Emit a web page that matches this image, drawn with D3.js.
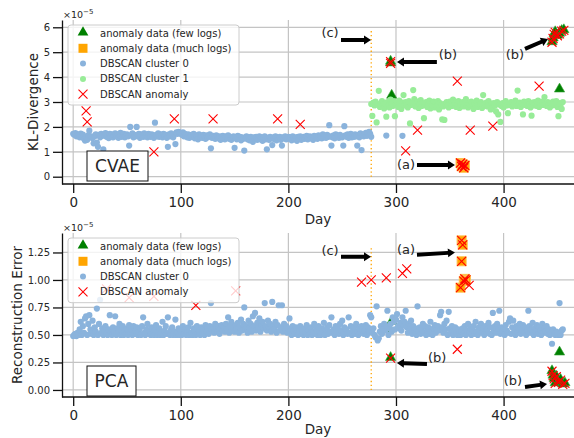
<!DOCTYPE html>
<meta charset="utf-8">
<script src="https://cdn.jsdelivr.net/npm/d3@7"></script>
<style>
body{margin:0;background:#fff}
text{font-family:"DejaVu Sans",sans-serif;fill:#262626}
</style>
<body>
<script>
// ---------------- data (values in units of 1e-5) ----------------
var dayTicks=[0,100,200,300,400];
var cvaeTicks=[0,1,2,3,4,5,6];
var pcaTicks=[0,0.25,0.5,0.75,1.0,1.25];

// CVAE, DBSCAN cluster 0, one value per day starting at day 0
var cvaeC0Start=0;
var cvaeC0=[1.72,1.68,1.75,1.62,1.70,1.66,1.58,1.73,1.64,1.69,
1.52,1.45,1.60,1.48,1.66,1.85,1.58,1.62,1.55,1.34,
1.62,1.70,1.37,1.20,1.68,1.58,1.72,1.64,1.10,1.66,
1.75,1.60,1.68,1.55,1.72,1.64,1.70,1.58,1.66,1.74,
1.62,1.70,1.56,1.68,1.76,1.60,1.66,1.72,1.58,1.64,
1.70,1.62,1.25,2.00,1.66,1.74,1.58,1.68,1.62,2.00,
1.64,1.72,1.56,1.70,1.66,1.60,1.74,1.62,1.68,1.58,
1.72,1.66,1.60,1.70,1.64,1.56,2.17,1.68,1.62,1.74,
1.60,1.70,1.66,1.58,1.72,1.64,1.68,1.56,1.20,1.70,
1.62,1.74,1.66,1.58,1.70,1.31,1.78,1.72,1.80,1.76,
1.74,1.68,1.78,1.62,1.72,1.66,1.58,1.70,1.56,1.64,
1.68,1.60,1.72,1.54,1.66,1.62,1.50,1.70,1.58,1.64,
1.56,1.68,1.60,1.52,1.66,1.58,1.62,1.70,1.14,1.56,
1.64,1.58,1.52,1.66,1.60,1.54,1.62,1.48,1.58,1.64,
1.56,1.50,1.62,1.58,1.66,1.52,1.60,1.48,1.56,1.62,
1.16,1.58,1.50,1.64,1.54,1.60,1.46,1.58,1.52,1.05,
1.56,1.62,1.50,1.58,1.46,1.60,1.54,1.40,1.58,1.52,
1.60,1.48,1.56,1.62,1.50,1.58,1.44,1.56,1.62,1.50,
1.10,1.56,1.48,1.60,1.54,1.27,1.58,1.50,1.62,1.46,
1.56,1.52,1.60,1.48,1.25,1.58,1.54,1.62,1.50,1.56,
1.60,1.52,1.58,1.46,1.62,1.54,1.50,1.58,1.44,1.60,
1.54,1.62,1.48,1.56,1.60,1.52,1.58,1.64,1.50,1.56,
1.62,1.54,1.58,1.48,1.64,1.56,1.60,1.52,1.66,1.58,
1.62,1.54,1.70,1.58,1.64,1.56,1.68,1.60,2.07,1.62,
1.25,1.58,1.66,1.54,1.70,1.60,1.64,1.56,1.68,1.62,
1.58,1.25,2.03,1.66,1.60,1.70,1.56,1.64,1.72,1.58,
1.66,1.60,1.70,1.62,1.25,1.68,1.58,1.74,1.07,1.66,
1.62,1.70,1.76,1.64,1.75,1.80,1.72,1.60];
var cvaeC0ExtraDays=[291,306];
var cvaeC0ExtraVals=[1.65,1.64];

// CVAE, DBSCAN cluster 1, one value per day starting at day 277
var cvaeC1Start=277;
var cvaeC1=[2.92,2.44,2.98,2.86,3.02,2.18,2.90,3.45,2.80,2.96,
3.04,2.88,2.74,2.94,2.41,3.00,2.86,2.78,3.10,2.92,
2.84,3.02,2.43,2.90,2.96,2.80,3.06,2.88,2.72,2.98,
3.28,2.86,3.00,2.92,2.78,3.04,2.14,2.88,2.96,3.48,
3.12,2.82,2.94,3.02,2.76,2.90,3.08,2.84,2.96,2.35,
2.88,3.00,2.80,2.94,3.06,2.74,2.90,2.86,3.02,2.78,
2.92,2.84,3.04,2.70,2.96,2.88,2.30,2.82,2.28,2.94,
3.00,2.86,2.78,3.02,2.92,2.84,3.10,2.88,2.96,2.80,
2.90,3.04,2.76,2.92,2.86,3.00,2.82,2.94,3.12,2.88,
2.78,2.96,2.90,3.02,2.84,2.72,2.94,2.88,3.06,2.80,
2.92,2.86,3.00,2.76,3.28,2.90,2.84,2.98,2.82,3.04,
2.88,2.70,2.94,2.80,2.96,2.86,2.62,3.00,2.50,2.90,
2.20,2.84,2.96,2.78,2.92,3.04,2.86,2.55,2.94,2.88,
3.00,2.82,2.96,2.90,3.06,2.84,3.46,2.92,2.98,2.80,
2.94,2.50,3.02,2.88,2.96,2.84,3.04,2.90,2.78,2.45,
2.98,2.86,3.00,2.92,2.84,3.06,2.80,2.96,2.90,3.02,
2.88,3.20,2.94,2.84,3.00,2.90,2.78,2.96,2.86,3.02,
2.92,2.88,3.04,2.80,2.43,2.96,2.90,2.72,3.00];

// CVAE anomaly data
var cvaeFewDays=[295,295,296,452,445,446,447,448,450,452,454,456];
var cvaeFewVals=[4.55,4.62,3.25,3.50,5.40,5.55,5.72,5.80,5.66,5.74,5.85,5.88];
var cvaeMuchDays=[360,361,362,363,364];
var cvaeMuchVals=[0.55,0.42,0.50,0.36,0.45];
var cvaeAnomDays=[12,13,75,94,130,190,211,309,320,357,369,390,433,295,295,360,361,362,363,364,445,446,447,448,450,452,454,456];
var cvaeAnomVals=[2.64,2.20,1.00,2.32,2.32,2.32,2.10,1.04,1.87,3.84,1.87,2.03,3.64,4.55,4.62,0.55,0.42,0.50,0.36,0.45,5.40,5.55,5.72,5.80,5.66,5.74,5.85,5.88];

// PCA, DBSCAN cluster 0, one value per day starting at day 0
var pcaC0Start=0;
var pcaC0=[0.49,0.50,0.51,0.49,0.52,0.50,0.55,0.62,0.50,0.58,
0.52,0.65,0.67,0.50,0.60,0.68,0.55,0.51,0.63,0.50,
0.57,0.53,0.74,0.50,0.60,0.82,0.52,0.56,0.50,0.54,
0.58,0.51,0.50,0.55,0.68,0.52,0.50,0.57,0.53,0.67,
0.50,0.56,0.52,0.60,0.50,0.54,0.58,0.50,0.53,0.51,
0.56,0.50,0.59,0.52,0.55,0.50,0.58,0.51,0.54,0.57,
0.50,0.53,0.56,0.50,0.58,0.66,0.52,0.50,0.55,0.60,
0.51,0.54,0.50,0.57,0.52,0.50,0.55,0.59,0.50,0.53,
0.56,0.50,0.52,0.62,0.50,0.54,0.58,0.51,0.66,0.52,
0.50,0.55,0.57,0.50,0.53,0.64,0.50,0.52,0.56,0.50,
0.54,0.50,0.58,0.51,0.55,0.50,0.53,0.57,0.50,0.61,
0.52,0.50,0.56,0.54,0.50,0.58,0.51,0.53,0.50,0.57,
0.52,0.55,0.50,0.59,0.53,0.56,0.51,0.58,0.79,0.54,
0.57,0.52,0.60,0.55,0.53,0.58,0.51,0.56,0.59,0.54,
0.57,0.53,0.60,0.55,0.66,0.52,0.58,0.62,0.54,0.57,
0.53,0.59,0.55,0.61,0.52,0.57,0.64,0.54,0.60,0.75,
0.55,0.58,0.52,0.63,0.56,0.60,0.53,0.67,0.58,0.70,
0.54,0.61,0.57,0.65,0.53,0.59,0.62,0.56,0.79,0.58,
0.54,0.63,0.57,0.60,0.53,0.80,0.58,0.55,0.62,0.52,
0.59,0.77,0.54,0.57,0.77,0.53,0.60,0.55,0.58,0.52,
0.56,0.65,0.53,0.50,0.58,0.54,0.51,0.57,0.53,0.50,
0.55,0.58,0.51,0.53,0.50,0.56,0.52,0.59,0.50,0.54,
0.51,0.57,0.50,0.53,0.60,0.51,0.55,0.50,0.58,0.52,
0.50,0.56,0.53,0.61,0.50,0.54,0.57,0.51,0.59,0.53,
0.66,0.52,0.55,0.50,0.58,0.53,0.56,0.51,0.60,0.54,
0.63,0.50,0.57,0.53,0.55,0.51,0.66,0.52,0.58,0.50,
0.54,0.57,0.51,0.60,0.53,0.50,0.56,0.52,0.58,0.55,
0.51,0.54,0.59,0.50,0.57,0.53,0.68,0.66,0.52,0.56,
0.50,0.48,0.76,0.45,0.47,0.53,0.58,0.51,0.55,0.60,
0.54,0.58,0.72,0.50,0.56,0.60,0.53,0.66,0.62,0.55,
0.64,0.69,0.58,0.56,0.61,0.54,0.66,0.59,0.62,0.72,
0.57,0.52,0.60,0.55,0.63,0.51,0.58,0.54,0.56,0.50,
0.76,0.53,0.57,0.51,0.55,0.60,0.52,0.58,0.50,0.54,
0.57,0.51,0.62,0.53,0.50,0.56,0.59,0.52,0.55,0.58,
0.54,0.68,0.71,0.57,0.52,0.60,0.55,0.63,0.50,0.71,
0.56,0.52,0.58,0.50,0.54,0.57,0.51,0.50,0.55,0.52,
0.50,0.53,0.56,0.51,0.58,0.50,0.54,0.60,0.52,0.56,
0.50,0.55,0.58,0.51,0.62,0.53,0.50,0.57,0.54,0.60,
0.52,0.56,0.50,0.58,0.53,0.55,0.61,0.51,0.57,0.50,
0.70,0.54,0.58,0.52,0.60,0.55,0.72,0.51,0.57,0.53,
0.56,0.50,0.59,0.54,0.52,0.62,0.65,0.51,0.57,0.63,
0.54,0.50,0.58,0.52,0.56,0.60,0.51,0.55,0.59,0.52,
0.57,0.50,0.54,0.72,0.58,0.52,0.55,0.61,0.50,0.56,
0.53,0.59,0.51,0.57,0.54,0.50,0.60,0.52,0.56,0.53,
0.58,0.51,0.55,0.50,0.52,0.42,0.55,0.51,0.50,0.53,
0.52,0.50,0.79,0.50,0.54,0.55];

// PCA anomaly data
var pcaFewDays=[295,294,296,452,445,446,447,448,449,451,453,455,457];
var pcaFewVals=[0.29,0.55,0.62,0.34,0.17,0.13,0.10,0.06,0.12,0.07,0.09,0.05,0.06];
var pcaMuchDays=[361,362,361,364,365,363,360];
var pcaMuchVals=[1.36,1.32,1.17,1.01,1.00,0.99,0.93];
var pcaAnomDays=[31,52,75,114,151,268,277,291,306,310,357,368,295,361,362,361,364,365,363,360,445,446,447,448,449,451,453,455,457];
var pcaAnomVals=[0.92,0.84,0.85,0.77,0.90,0.98,1.00,1.02,1.06,1.10,0.37,0.95,0.29,1.36,1.32,1.17,1.01,1.00,0.99,0.93,0.17,0.13,0.10,0.06,0.12,0.07,0.09,0.05,0.06];

// annotations: label, text pos (day,val), arrow tail, arrow head
var cvaeNotes=[
 {t:"(c)",tx:238.7,ty:5.80,x0:248.9,y0:5.49,x1:276.8,y1:5.49},
 {t:"(b)",tx:348.3,ty:4.89,x0:338.0,y0:4.61,x1:300.9,y1:4.61},
 {t:"(a)",tx:309.3,ty:0.51,x0:319.5,y0:0.47,x1:354.8,y1:0.47},
 {t:"(b)",tx:410.6,ty:4.89,x0:419.9,y0:5.13,x1:441.3,y1:5.53}];
var pcaNotes=[
 {t:"(c)",tx:238.7,ty:1.27,x0:248.9,y0:1.21,x1:276.8,y1:1.21},
 {t:"(a)",tx:309.3,ty:1.28,x0:319.5,y0:1.23,x1:354.8,y1:1.25},
 {t:"(b)",tx:338.2,ty:0.30,x0:328.8,y0:0.236,x1:300.9,y1:0.245},
 {t:"(b)",tx:408.7,ty:0.09,x0:419.9,y0:0.027,x1:440.4,y1:0.055}];

var cutDay=277;

// ---------------- drawing ----------------
var blue="#8ab3dc", lgreen="#98ec98", dgreen="#008000", orange="#ffa500";

var svg=d3.select("body").append("svg").attr("width",574).attr("height",438);

function pts(start,vals){ return vals.map(function(v,i){return [start+i,v];}); }
function zip(a,b){ return a.map(function(d,i){return [d,b[i]];}); }

function panel(o){
  var x=d3.scaleLinear().domain([-10.4,467.3]).range([62,576]);
  var y=d3.scaleLinear().domain(o.ydom).range([o.bottom,o.top]);
  var g=svg.append("g");

  // grid
  g.append("g").selectAll("line").data(dayTicks).enter().append("line")
    .attr("x1",function(d){return x(d)}).attr("x2",function(d){return x(d)})
    .attr("y1",o.top).attr("y2",o.bottom).attr("stroke","#c4c4c4").attr("stroke-width",1.2);
  g.append("g").selectAll("line").data(o.yticks).enter().append("line")
    .attr("y1",function(d){return y(d)}).attr("y2",function(d){return y(d)})
    .attr("x1",62).attr("x2",576).attr("stroke","#c4c4c4").attr("stroke-width",1.2);

  // cut line
  g.append("line").attr("x1",x(cutDay)).attr("x2",x(cutDay))
    .attr("y1",y(0)).attr("y2",y(o.cutTop))
    .attr("stroke",orange).attr("stroke-width",1.3).attr("stroke-dasharray","1.3,2.6");

  // known anomalies
  g.append("g").selectAll("path").data(zip(o.fewD,o.fewV)).enter().append("path")
    .attr("d",d3.symbol(d3.symbolTriangle,46))
    .attr("transform",function(d){return "translate("+x(d[0])+","+(y(d[1])-0.5)+")"})
    .attr("fill",dgreen).attr("stroke","#3aa53a").attr("stroke-width",0.6);
  g.append("g").selectAll("rect").data(zip(o.muchD,o.muchV)).enter().append("rect")
    .attr("x",function(d){return x(d[0])-4.5}).attr("y",function(d){return y(d[1])-4.5})
    .attr("width",9).attr("height",9)
    .attr("fill",orange).attr("stroke","#ffbf50").attr("stroke-width",1);

  // clusters
  o.clusters.forEach(function(c){
    g.append("g").selectAll("circle").data(c.data).enter().append("circle")
      .attr("cx",function(d){return x(d[0])}).attr("cy",function(d){return y(d[1])})
      .attr("r",3.1).attr("fill",c.color);
  });

  // DBSCAN anomalies
  g.append("g").selectAll("path").data(zip(o.anD,o.anV)).enter().append("path")
    .attr("d","M-4.5,-4.5L4.5,4.5M-4.5,4.5L4.5,-4.5")
    .attr("transform",function(d){return "translate("+x(d[0])+","+y(d[1])+")"})
    .attr("stroke","red").attr("stroke-width",1.1).attr("fill","none");

  // annotations
  o.notes.forEach(function(n){
    arrow(g,x(n.x0),y(n.y0),x(n.x1),y(n.y1));
    g.append("text").attr("x",x(n.tx)).attr("y",y(n.ty)).attr("text-anchor","middle")
      .attr("dy","0.35em").style("font-size","13px").text(n.t);
  });

  // axes
  var ax=g.append("g").attr("transform","translate(0,"+o.bottom+")")
    .call(d3.axisBottom(x).tickValues(dayTicks).tickSize(9).tickPadding(4).tickSizeOuter(0));
  ax.selectAll("text").style("font-size","13.5px").attr("fill","#262626");
  var ay=g.append("g").attr("transform","translate(62,0)")
    .call(d3.axisLeft(y).tickValues(o.yticks).tickFormat(o.yfmt).tickSize(9).tickPadding(3).tickSizeOuter(0));
  ay.selectAll("text").style("font-size","10px").attr("fill","#262626");
  [ax,ay].forEach(function(a){
    a.select(".domain").attr("stroke","#111").attr("stroke-width",1.3);
    a.selectAll(".tick line").attr("stroke","#111").attr("stroke-width",1.3);
  });
  ax.select(".domain").attr("d","M62,0H576");

  g.append("text").attr("x",318).attr("y",o.bottom+o.dayDy).attr("text-anchor","middle")
    .attr("dy","0.35em").style("font-size","13.5px").text("Day");
  g.append("text").attr("transform","translate("+o.ylabX+","+((o.top+o.bottom)/2)+") rotate(-90)")
    .attr("text-anchor","middle").attr("dy","0.35em").style("font-size","13.5px").text(o.ylab);
  var m=g.append("text").attr("x",63).attr("y",o.top-2).style("font-size","9.5px").text("\u00d710");
  m.append("tspan").attr("dy","-4").style("font-size","7px").text("\u22125");

  // legend
  var lg=g.append("g").attr("transform","translate(68,"+(o.top+5)+")");
  lg.append("rect").attr("width",171).attr("height",o.legend.length*15.3+3.5).attr("rx",3)
    .attr("fill","white").attr("fill-opacity",0.8).attr("stroke","#cccccc").attr("stroke-width",1);
  o.legend.forEach(function(e,i){
    var cy=8+i*15.3, it=lg.append("g").attr("transform","translate(15,"+cy+")");
    if(e.k=="tri") it.append("path").attr("d",d3.symbol(d3.symbolTriangle,50)).attr("transform","translate(0,-0.5)").attr("fill",dgreen);
    if(e.k=="sq") it.append("rect").attr("x",-4.5).attr("y",-4.5).attr("width",9).attr("height",9).attr("fill",orange);
    if(e.k=="dot") it.append("circle").attr("r",3).attr("fill",e.c);
    if(e.k=="x") it.append("path").attr("d","M-4.5,-4.5L4.5,4.5M-4.5,4.5L4.5,-4.5").attr("stroke","red").attr("stroke-width",1.1);
    lg.append("text").attr("x",32).attr("y",cy).attr("dy","0.35em").style("font-size","10px").text(e.t);
  });

  // method box
  var bx=g.append("g");
  bx.append("rect").attr("x",87).attr("y",o.box.y).attr("width",o.box.w).attr("height",30)
    .attr("fill","white").attr("stroke","#111").attr("stroke-width",1);
  bx.append("text").attr("x",87+o.box.w/2).attr("y",o.box.y+15).attr("dy","0.35em")
    .attr("text-anchor","middle").style("font-size","17px").attr("fill","#111").text(o.box.t);
}

function arrow(g,x0,y0,x1,y1){
  var dx=x1-x0, dy=y1-y0, L=Math.hypot(dx,dy), ux=dx/L, uy=dy/L, px=-uy, py=ux;
  var hl=7, hw=4.5, sw=2;
  var bx=x1-ux*hl, by=y1-uy*hl;
  var p=[[x0+px*sw,y0+py*sw],[bx+px*sw,by+py*sw],[bx+px*hw,by+py*hw],[x1,y1],
         [bx-px*hw,by-py*hw],[bx-px*sw,by-py*sw],[x0-px*sw,y0-py*sw]];
  g.append("polygon").attr("points",p.map(function(q){return q.join(",")}).join(" ")).attr("fill","black");
}

panel({top:20,bottom:184,ydom:[-0.293,6.293],yticks:cvaeTicks,yfmt:d3.format("d"),
  ylab:"KL-Divergence",ylabX:33,cutTop:5.95,dayDy:35,
  fewD:cvaeFewDays,fewV:cvaeFewVals,muchD:cvaeMuchDays,muchV:cvaeMuchVals,
  anD:cvaeAnomDays,anV:cvaeAnomVals,notes:cvaeNotes,
  clusters:[{data:pts(cvaeC0Start,cvaeC0).concat(zip(cvaeC0ExtraDays,cvaeC0ExtraVals)),color:blue},
            {data:pts(cvaeC1Start,cvaeC1),color:lgreen}],
  legend:[{k:"tri",t:"anomaly data (few logs)"},{k:"sq",t:"anomaly data (much logs)"},
          {k:"dot",c:blue,t:"DBSCAN cluster 0"},{k:"dot",c:lgreen,t:"DBSCAN cluster 1"},
          {k:"x",t:"DBSCAN anomaly"}],
  box:{t:"CVAE",y:151,w:61}});

panel({top:233,bottom:397,ydom:[-0.064,1.427],yticks:pcaTicks,yfmt:d3.format(".2f"),
  ylab:"Reconstruction Error",ylabX:17,cutTop:1.3,dayDy:32.5,
  fewD:pcaFewDays,fewV:pcaFewVals,muchD:pcaMuchDays,muchV:pcaMuchVals,
  anD:pcaAnomDays,anV:pcaAnomVals,notes:pcaNotes,
  clusters:[{data:pts(pcaC0Start,pcaC0),color:blue}],
  legend:[{k:"tri",t:"anomaly data (few logs)"},{k:"sq",t:"anomaly data (much logs)"},
          {k:"dot",c:blue,t:"DBSCAN cluster 0"},{k:"x",t:"DBSCAN anomaly"}],
  box:{t:"PCA",y:366,w:49}});
</script>
</body>
</html>
